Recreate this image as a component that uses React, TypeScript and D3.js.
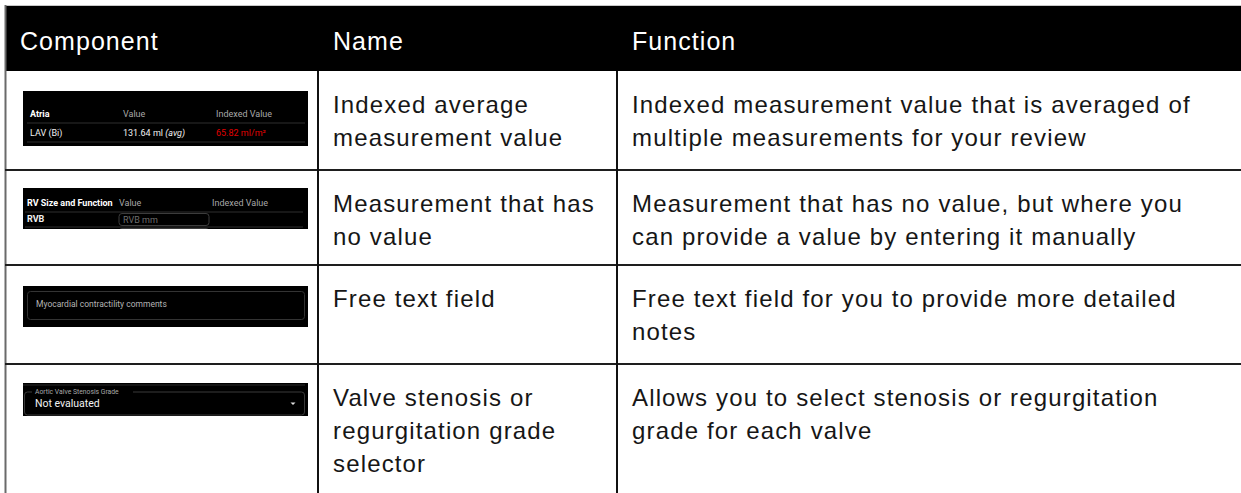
import React from "react";
import * as d3 from "d3";

// ---------- data ----------
const HEADERS = ["Component", "Name", "Function"];

const NAMES: string[][] = [
  ["Indexed average", "measurement value"],
  ["Measurement that has", "no value"],
  ["Free text field"],
  ["Valve stenosis or", "regurgitation grade", "selector"],
];

const FUNCTIONS: string[][] = [
  ["Indexed measurement value that is averaged of", "multiple measurements for your review"],
  ["Measurement that has no value, but where you", "can provide a value by entering it manually"],
  ["Free text field for you to provide more detailed", "notes"],
  ["Allows you to select stenosis or regurgitation", "grade for each valve"],
];

const ATRIA_COLUMNS = ["Atria", "Value", "Indexed Value"];
const ATRIA_NAMES = ["LAV (Bi)", "LAV (4Ch)"];
const ATRIA_VALUES = ["131.64 ml", "135.40 ml"];
const ATRIA_QUALIFIERS = ["(avg)", "(avg)"];
const ATRIA_INDEXED = ["65.82 ml/m²", "67.70 ml/m²"];
const ATRIA_FLAGGED = [true, false];

const RV_COLUMNS = ["RV Size and Function", "Value", "Indexed Value"];
const RV_NAMES = ["RVB", ""];
const RV_PLACEHOLDERS = ["RVB mm", ""];

const COMMENT_PLACEHOLDER = "Myocardial contractility comments";
const GRADE_LABEL = "Aortic Valve Stenosis Grade";
const GRADE_VALUE = "Not evaluated";

// ---------- layout ----------
const W = 1241;
const H = 493;
const MAIN_FONT = "'Liberation Sans', Arial, Helvetica, sans-serif";
const UI_FONT = "Roboto, 'Noto Sans', sans-serif";
const TABLE_LEFT = 5;
const TABLE_TOP = 5;
const HEADER_BOTTOM = 71;
const ROW_BOUNDS = [71, 170, 265, 364, 520];
const LINE_H = 33;
const FONT_SIZE = 24;
const HEADER_FONT_SIZE = 25;
const LETTER = 1.15;

const colX = d3.scaleOrdinal<string, number>().domain(HEADERS).range([TABLE_LEFT, 318, 617]);
const rowTop = d3.scaleOrdinal<number, number>().domain(d3.range(4)).range(ROW_BOUNDS.slice(0, 4));

const THUMB_X = 23;
const THUMB_W = 285;

function AtriaThumb({ y }: { y: number }) {
  const cols = d3.scaleOrdinal<string, number>().domain(ATRIA_COLUMNS).range([30, 123, 216]);
  const h = 55;
  return (
    <g>
      <clipPath id="clip-atria">
        <rect x={THUMB_X} y={y} width={THUMB_W} height={h} />
      </clipPath>
      <rect x={THUMB_X} y={y} width={THUMB_W} height={h} fill="#000" />
      <g clipPath="url(#clip-atria)" fontFamily={UI_FONT} fontSize={9}>
        {ATRIA_COLUMNS.map((c, i) => (
          <text key={c} x={cols(c)} y={y + 26} fill={i === 0 ? "#fff" : "#a8a8a8"} fontWeight={i === 0 ? 700 : 400}>
            {c}
          </text>
        ))}
        {ATRIA_NAMES.map((n, i) => {
          const by = y + 45 + i * 19;
          return (
            <g key={n}>
              <line x1={THUMB_X + 4} x2={THUMB_X + THUMB_W - 3} y1={by - 13} y2={by - 13} stroke="#2e2e2e" strokeWidth={1} />
              <text x={cols(ATRIA_COLUMNS[0])} y={by} fill="#f0f0f0">{n}</text>
              <text x={cols(ATRIA_COLUMNS[1])} y={by} fill="#f0f0f0">
                {ATRIA_VALUES[i] + " "}
                <tspan fontStyle="italic">{ATRIA_QUALIFIERS[i]}</tspan>
              </text>
              <text x={cols(ATRIA_COLUMNS[2])} y={by} fill={ATRIA_FLAGGED[i] ? "#e00000" : "#f0f0f0"}>
                {ATRIA_INDEXED[i]}
              </text>
            </g>
          );
        })}
      </g>
    </g>
  );
}

function RvThumb({ y }: { y: number }) {
  const cols = d3.scaleOrdinal<string, number>().domain(RV_COLUMNS).range([27, 119, 212]);
  const h = 41;
  return (
    <g>
      <clipPath id="clip-rv">
        <rect x={THUMB_X} y={y} width={THUMB_W} height={h} />
      </clipPath>
      <rect x={THUMB_X} y={y} width={THUMB_W} height={h} fill="#000" />
      <g clipPath="url(#clip-rv)" fontFamily={UI_FONT} fontSize={9}>
        {RV_COLUMNS.map((c, i) => (
          <text key={c} x={cols(c)} y={y + 18} fill={i === 0 ? "#fff" : "#a8a8a8"} fontWeight={i === 0 ? 700 : 400}>
            {c}
          </text>
        ))}
        {RV_NAMES.map((n, i) => {
          const by = y + 34 + i * 15;
          return (
            <g key={"rv" + i}>
              <line x1={THUMB_X + 2} x2={THUMB_X + THUMB_W - 5} y1={by - 10} y2={by - 10} stroke="#2e2e2e" strokeWidth={1} />
              <text x={cols(RV_COLUMNS[0])} y={by} fill="#f0f0f0" fontWeight={700}>{n}</text>
              <rect x={cols(RV_COLUMNS[1])} y={by - 8.5} width={90} height={12} rx={3} fill="none" stroke="#3c3c3c" strokeWidth={1} />
              <text x={cols(RV_COLUMNS[1]) + 4} y={by + 0.5} fill="#6e6e6e">{RV_PLACEHOLDERS[i]}</text>
            </g>
          );
        })}
      </g>
    </g>
  );
}

function CommentThumb({ y }: { y: number }) {
  const h = 41;
  return (
    <g>
      <rect x={THUMB_X} y={y} width={THUMB_W} height={h} fill="#000" />
      <rect x={27.5} y={y + 5.5} width={277} height={28} rx={3} fill="none" stroke="#333" strokeWidth={1} />
      <text x={36} y={y + 20.5} fontFamily={UI_FONT} fontSize={8.5} fill="#b4b4b4">
        {COMMENT_PLACEHOLDER}
      </text>
    </g>
  );
}

function GradeThumb({ y }: { y: number }) {
  const h = 33;
  const tri = d3.path();
  tri.moveTo(290.5, y + 19.5);
  tri.lineTo(295.5, y + 19.5);
  tri.lineTo(293, y + 22);
  tri.closePath();
  return (
    <g>
      <rect x={THUMB_X} y={y} width={THUMB_W} height={h} fill="#000" />
      <line x1={THUMB_X} x2={THUMB_X + THUMB_W - 3} y1={y + 2} y2={y + 2} stroke="#2a2a2a" strokeWidth={1} />
      <rect x={24.5} y={y + 9} width={280} height={23} rx={3} fill="none" stroke="#3a3a3a" strokeWidth={1} />
      <rect x={32} y={y + 7} width={101} height={4} fill="#000" />
      <text x={35} y={y + 10.5} fontFamily={UI_FONT} fontSize={6.8} fill="#a8a8a8">
        {GRADE_LABEL}
      </text>
      <text x={35} y={y + 24} fontFamily={UI_FONT} fontSize={10.5} fill="#f2f2f2">
        {GRADE_VALUE}
      </text>
      <path d={tri.toString()} fill="#e0e0e0" />
    </g>
  );
}

const THUMB_TOPS = [91, 188, 286, 383];

export default function App() {
  const textCols = HEADERS.slice(1);
  return (
    <svg
      width={W}
      height={H}
      viewBox={`0 0 ${W} ${H}`}
      style={{ position: "absolute", left: 0, top: 0, background: "#fff" }}
    >
      <rect x={0} y={0} width={W} height={H} fill="#fff" />
      {/* header */}
      <rect x={TABLE_LEFT} y={TABLE_TOP + 1} width={W - TABLE_LEFT} height={HEADER_BOTTOM - TABLE_TOP - 1} fill="#000" />
      <line x1={TABLE_LEFT} x2={W} y1={TABLE_TOP + 0.5} y2={TABLE_TOP + 0.5} stroke="#c8c8c8" strokeWidth={1} />
      {HEADERS.map((hd) => (
        <text
          key={hd}
          x={colX(hd) + 15}
          y={50}
          fill="#fff"
          fontFamily={MAIN_FONT}
          fontSize={HEADER_FONT_SIZE}
          letterSpacing={1.05}
        >
          {hd}
        </text>
      ))}
      {/* grid lines */}
      <line x1={TABLE_LEFT + 0.5} x2={TABLE_LEFT + 0.5} y1={TABLE_TOP} y2={H} stroke="#6a6a6a" strokeWidth={2} />
      {ROW_BOUNDS.slice(1, 4).map((b) => (
        <line key={b} x1={TABLE_LEFT} x2={W} y1={b} y2={b} stroke="#1e1e1e" strokeWidth={2.2} />
      ))}
      {textCols.map((c) => (
        <line key={c} x1={colX(c)} x2={colX(c)} y1={HEADER_BOTTOM} y2={H} stroke="#111" strokeWidth={2} />
      ))}
      {/* body text */}
      {NAMES.map((lines, r) =>
        lines.map((ln, k) => (
          <text
            key={"n" + r + k}
            x={colX("Name") + 15}
            y={rowTop(r) + 42 + k * LINE_H}
            fill="#161616"
            fontFamily={MAIN_FONT}
            fontSize={FONT_SIZE}
            letterSpacing={LETTER}
          >
            {ln}
          </text>
        ))
      )}
      {FUNCTIONS.map((lines, r) =>
        lines.map((ln, k) => (
          <text
            key={"f" + r + k}
            x={colX("Function") + 15}
            y={rowTop(r) + 42 + k * LINE_H}
            fill="#161616"
            fontFamily={MAIN_FONT}
            fontSize={FONT_SIZE}
            letterSpacing={LETTER}
          >
            {ln}
          </text>
        ))
      )}
      {/* component thumbnails */}
      <AtriaThumb y={THUMB_TOPS[0]} />
      <RvThumb y={THUMB_TOPS[1]} />
      <CommentThumb y={THUMB_TOPS[2]} />
      <GradeThumb y={THUMB_TOPS[3]} />
    </svg>
  );
}
